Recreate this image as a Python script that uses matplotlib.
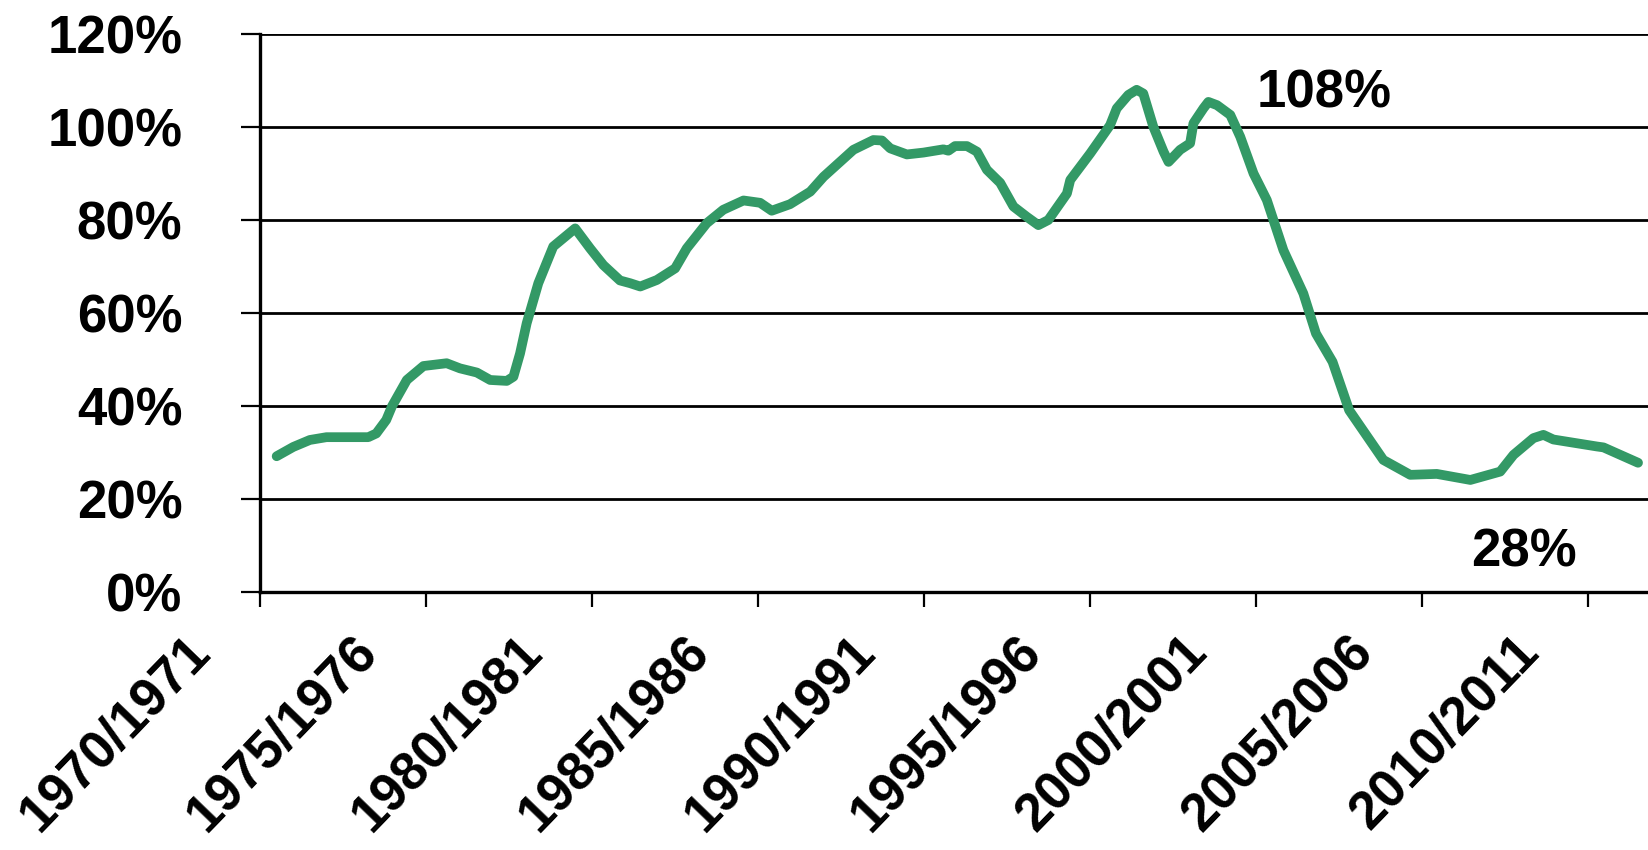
import numpy as np
import matplotlib
matplotlib.use("Agg")
import matplotlib.pyplot as plt
import matplotlib.transforms as mtransforms
from matplotlib.ticker import PercentFormatter

# period index (0 = 1970/1971) and share in %
period = [0.0, 0.5, 1.0, 1.5, 2.76, 3.0, 3.3, 3.47, 3.92, 4.42, 5.12, 5.52, 6.03,
          6.43, 6.93, 7.13, 7.33, 7.53, 7.88, 8.33, 8.99, 9.44, 9.84, 10.34, 10.65,
          10.95, 11.45, 12.0, 12.35, 12.95, 13.45, 14.06, 14.56, 14.91, 15.46, 16.07,
          16.47, 17.37, 17.97, 18.23, 18.48, 18.98, 19.48, 20.08, 20.23, 20.43, 20.79,
          21.09, 21.39, 21.79, 22.19, 22.59, 22.94, 23.24, 23.8, 23.9, 24.5, 25.1,
          25.3, 25.65, 25.9, 26.1, 26.4, 26.71, 26.86, 27.21, 27.51, 27.61, 27.91,
          28.06, 28.32, 28.72, 29.02, 29.42, 29.82, 30.32, 30.92, 31.3, 31.8, 32.3,
          33.33, 34.14, 34.94, 35.95, 36.85, 37.25, 37.85, 38.15, 38.45, 39.76,
          39.96, 41.0]
share = [29.2, 31.2, 32.7, 33.3, 33.3, 34.1, 37.0, 39.9, 45.6, 48.6, 49.2, 48.1, 47.2,
         45.6, 45.4, 46.3, 51.3, 57.8, 66.4, 74.3, 78.2, 73.9, 70.3, 67.0, 66.4,
         65.7, 67.1, 69.6, 73.9, 79.3, 82.2, 84.2, 83.7, 82.0, 83.4, 86.1,
         89.3, 95.1, 97.2, 97.1, 95.4, 94.1, 94.5, 95.2, 94.9, 95.9, 95.9,
         94.7, 90.8, 88.0, 82.9, 80.7, 78.9, 80.0, 85.7, 88.6, 94.3, 100.4,
         104.0, 106.9, 108.0, 107.2, 100.1, 94.7, 92.5, 95.1, 96.5, 100.8, 104.0,
         105.4, 104.7, 102.6, 97.9, 90.0, 84.3, 73.5, 64.2, 55.6, 49.5, 39.1,
         28.4, 25.2, 25.4, 24.1, 25.9, 29.5, 33.1, 33.8, 32.8, 31.3,
         31.1, 27.8]

tick_labels = ["1970/1971", "1975/1976", "1980/1981", "1985/1986", "1990/1991",
               "1995/1996", "2000/2001", "2005/2006", "2010/2011"]
label_pos = [0, 5, 10, 15, 20, 25, 30, 35, 40]

peak_label = "108%"
last_label = "28%"

plt.rcParams['font.family'] = ['Liberation Sans', 'DejaVu Sans']
plt.rcParams['font.weight'] = 'bold'

fig = plt.figure(figsize=(16.48, 8.5), dpi=100)
ax = fig.add_axes([0.1578, 0.3035, 0.8422, 0.6565])

ax.plot(period, share, color='#339966', lw=7, solid_capstyle='round',
        solid_joinstyle='round', zorder=3)

ax.set_ylim(0, 120)
ax.set_yticks(np.arange(0, 121, 20))
ax.yaxis.set_major_formatter(PercentFormatter(decimals=0))
ax.set_xlim(-0.5, 41.3)

ax.grid(axis='y', color='black', lw=2.0)
ax.set_axisbelow(True)
for s in ['top', 'right']:
    ax.spines[s].set_visible(False)
ax.spines['left'].set_linewidth(2.4)
ax.spines['bottom'].set_linewidth(2.4)

# tick marks every 5 periods at category boundaries, labels at centres
ax.set_xticks(np.arange(-0.5, 41, 5), minor=True)
ax.set_xticks(label_pos)
ax.set_xticklabels(tick_labels, rotation=46, ha='right', va='top')
ax.tick_params(axis='x', which='major', length=0, pad=25, labelsize=38)
ax.tick_params(axis='x', which='minor', length=11, width=1.6, direction='out')
ax.tick_params(axis='y', length=14, width=1.6, pad=42, labelsize=38)

shift = mtransforms.ScaledTranslation(-0.56, 0, fig.dpi_scale_trans)
for lab in ax.get_xticklabels():
    lab.set_transform(lab.get_transform() + shift)

ax.text(31.55, 107.3, peak_label, fontsize=38, ha='center', va='center')
ax.text(37.57, 8.4, last_label, fontsize=38, ha='center', va='center')

fig.savefig("out.png", dpi=100)
